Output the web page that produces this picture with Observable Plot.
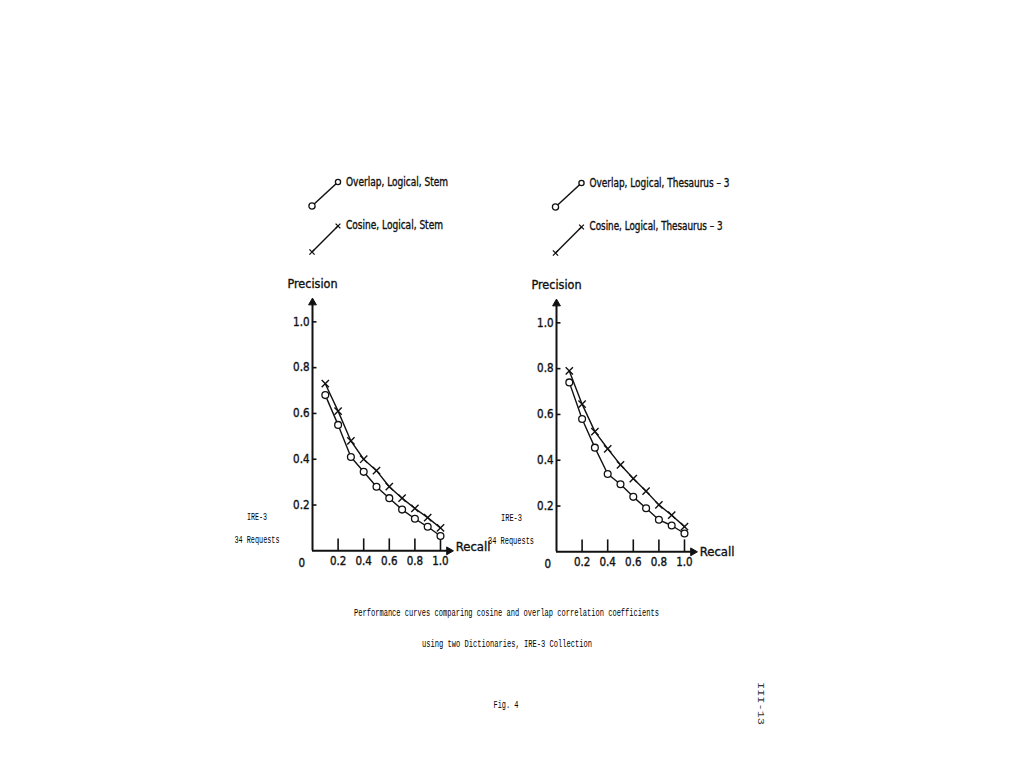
<!DOCTYPE html>
<html>
<head>
<meta charset="utf-8">
<script src="https://cdn.jsdelivr.net/npm/d3@7"></script>
<script src="https://cdn.jsdelivr.net/npm/@observablehq/plot@0.6"></script>
<style>
  html, body { margin: 0; padding: 0; background: #fff; }
  #page { position: relative; width: 1024px; height: 768px; overflow: hidden; background: #fff; }
  .chart { position: absolute; }
  .chart text { stroke: #111; stroke-width: 0.35px; }
  #overlay { position: absolute; left: 0; top: 0; pointer-events: none; }
</style>
</head>
<body>
<div id="page"></div>
<script>
// ---- data ----
const recall = [0.1, 0.2, 0.3, 0.4, 0.5, 0.6, 0.7, 0.8, 0.9, 1.0];
const stemCosine  = [0.73, 0.61, 0.48, 0.40, 0.35, 0.28, 0.23, 0.185, 0.145, 0.10];
const stemOverlap = [0.68, 0.55, 0.41, 0.345, 0.28, 0.23, 0.18, 0.14, 0.105, 0.065];
const thesCosine  = [0.79, 0.645, 0.525, 0.45, 0.38, 0.32, 0.265, 0.205, 0.16, 0.11];
const thesOverlap = [0.74, 0.58, 0.455, 0.34, 0.295, 0.24, 0.19, 0.14, 0.115, 0.08];
const xTicks = [0.2, 0.4, 0.6, 0.8, 1.0];
const yTicks = [0.2, 0.4, 0.6, 0.8, 1.0];
const legendStem = ["Overlap, Logical, Stem", "Cosine, Logical, Stem"];
const legendThes = ["Overlap, Logical, Thesaurus \u2013 3", "Cosine, Logical, Thesaurus \u2013 3"];
const sideNote = ["IRE-3", "34 Requests"];
const captionLines = [
  "Performance curves comparing cosine and overlap correlation coefficients",
  "using two Dictionaries, IRE-3 Collection"
];
const figLabel = "Fig. 4";
const pageLabel = "III-13";

// ---- layout ----
const FONT = '"Liberation Sans Narrow","DejaVu Sans Condensed","Roboto",sans-serif';
const MONO = '"Liberation Mono","DejaVu Sans Mono",monospace';
const INK = "#111";
const ML = 45, MR = 45, MT = 35, MB = 30;
const xMax = 1.15, yMax = 1.15;
const pxX = 128, pxY = 229;
const W = ML + MR + xMax * pxX;
const H = MT + MB + yMax * pxY;
const xArrow = 1.066, yArrow = 1.084;

const page = document.getElementById("page");

function makeChart(cos, ovl, ox, oy, recallDy, zeroDx) {
  const cosData = recall.map((r, i) => ({recall: r, precision: cos[i]}));
  const ovlData = recall.map((r, i) => ({recall: r, precision: ovl[i]}));
  const p = Plot.plot({
    width: W, height: H,
    marginLeft: ML, marginRight: MR, marginTop: MT, marginBottom: MB,
    x: {domain: [0, xMax]},
    y: {domain: [0, yMax]},
    style: {background: "transparent", fontFamily: FONT, fontSize: "11.5px", color: INK, overflow: "visible"},
    marks: [
      // axes with arrowheads
      Plot.ruleY([0], {x1: 0, x2: xArrow, stroke: INK, strokeWidth: 2}),
      Plot.ruleX([0], {y1: 0, y2: yArrow, stroke: INK, strokeWidth: 2}),
      Plot.dot([{a: xArrow, b: 0}], {x: "a", y: "b", symbol: "triangle", rotate: 90, r: 2.9, fill: INK, stroke: INK, strokeWidth: 1}),
      Plot.dot([{a: 0, b: yArrow}], {x: "a", y: "b", symbol: "triangle", r: 2.9, fill: INK, stroke: INK, strokeWidth: 1}),
      // inward ticks
      Plot.ruleX(xTicks, {y1: 0, y2: 0.052, stroke: INK, strokeWidth: 1.6}),
      Plot.ruleY(yTicks, {x1: 0, x2: 0.035, stroke: INK, strokeWidth: 1.6}),
      Plot.axisX({ticks: xTicks, tickSize: 0, tickPadding: 6, tickFormat: d => d.toFixed(1), label: null, fontSize: 11.5, fill: INK}),
      Plot.axisY({ticks: yTicks, tickSize: 0, tickPadding: 3, tickFormat: d => d.toFixed(1), label: null, fontSize: 11.5, fill: INK}),
      Plot.text(["0"], {frameAnchor: "bottom-left", dx: zeroDx, dy: 12, lineAnchor: "middle", fontSize: 11.5, fill: INK}),
      Plot.text(["Precision"], {frameAnchor: "top-left", dy: -3, textAnchor: "middle", lineAnchor: "middle", fontSize: 12.5, fill: INK}),
      Plot.text(["Recall"], {frameAnchor: "bottom-right", dx: -4, dy: recallDy, textAnchor: "start", lineAnchor: "middle", fontSize: 13, fill: INK}),
      // data
      Plot.line(cosData, {x: "recall", y: "precision", stroke: INK, strokeWidth: 1.4}),
      Plot.line(ovlData, {x: "recall", y: "precision", stroke: INK, strokeWidth: 1.4}),
      Plot.dot(ovlData, {x: "recall", y: "precision", symbol: "circle", r: 3.4, fill: "white", stroke: INK, strokeWidth: 1.3}),
      Plot.dot(cosData, {x: "recall", y: "precision", symbol: "times", r: 3.4, stroke: INK, strokeWidth: 1.4})
    ]
  });
  p.classList.add("chart");
  p.style.left = (ox - ML) + "px";
  p.style.top = (oy - yMax * pxY - MT) + "px";
  page.appendChild(p);
}

makeChart(stemCosine, stemOverlap, 312, 550, -4, -14);
makeChart(thesCosine, thesOverlap, 555.5, 551, 0, -12);

// ---- overlay: keys and captions ----
const svg = d3.create("svg").attr("id", "overlay").attr("width", 1024).attr("height", 768)
  .attr("viewBox", "0 0 1024 768");

function key(ox, oy, labels, widths) {
  const g = svg.append("g").attr("transform", `translate(${ox},${oy})`);
  // overlap key
  g.append("line").attr("x1", 0).attr("y1", -344).attr("x2", 26).attr("y2", -368)
    .attr("stroke", INK).attr("stroke-width", 1.5);
  g.append("circle").attr("cx", 0).attr("cy", -344).attr("r", 3.1).attr("fill", "white").attr("stroke", INK).attr("stroke-width", 1.3);
  g.append("circle").attr("cx", 26).attr("cy", -368).attr("r", 2.6).attr("fill", "white").attr("stroke", INK).attr("stroke-width", 1.3);
  // cosine key
  g.append("line").attr("x1", 0).attr("y1", -298).attr("x2", 26).attr("y2", -324)
    .attr("stroke", INK).attr("stroke-width", 1.5);
  const cross = (cx, cy, s) => g.append("path")
    .attr("d", `M${cx - s},${cy - s}L${cx + s},${cy + s}M${cx - s},${cy + s}L${cx + s},${cy - s}`)
    .attr("stroke", INK).attr("stroke-width", 1.3).attr("fill", "none");
  cross(0, -298, 2.6);
  cross(26, -324, 2.4);
  const ys = [-368, -325];
  labels.forEach((t, i) => {
    g.append("text").attr("x", 34).attr("y", ys[i]).attr("dy", "0.35em")
      .attr("font-family", FONT).attr("font-size", 12).attr("fill", INK)
      .attr("stroke", INK).attr("stroke-width", 0.35)
      .attr("textLength", widths[i]).attr("lengthAdjust", "spacingAndGlyphs")
      .text(t);
  });
}
key(312, 550, legendStem, [102, 97]);
key(555.5, 551, legendThes, [140, 133]);

function mono(t, cx, cy, w, size) {
  svg.append("text").attr("x", cx).attr("y", cy).attr("dy", "0.35em")
    .attr("text-anchor", "middle")
    .attr("font-family", MONO).attr("font-size", size).attr("fill", "#000")
    .attr("textLength", w).attr("lengthAdjust", "spacingAndGlyphs")
    .text(t);
}
mono(sideNote[0], 257, 516, 20, 10);
mono(sideNote[1], 257, 539, 45, 10);
mono(sideNote[0], 511.5, 517, 21, 10);
mono(sideNote[1], 511, 540, 46, 10);
mono(captionLines[0], 506.5, 612, 305, 10.5);
mono(captionLines[1], 507, 643, 170, 10.5);
mono(figLabel, 506, 704, 25, 10);
svg.append("text").attr("transform", "translate(761,703.5) rotate(90)")
  .attr("text-anchor", "middle").attr("dy", "0.35em")
  .attr("font-family", MONO).attr("font-size", 9).attr("fill", "#333")
  .attr("textLength", 43).attr("lengthAdjust", "spacingAndGlyphs")
  .text(pageLabel);

page.appendChild(svg.node());
</script>
</body>
</html>
